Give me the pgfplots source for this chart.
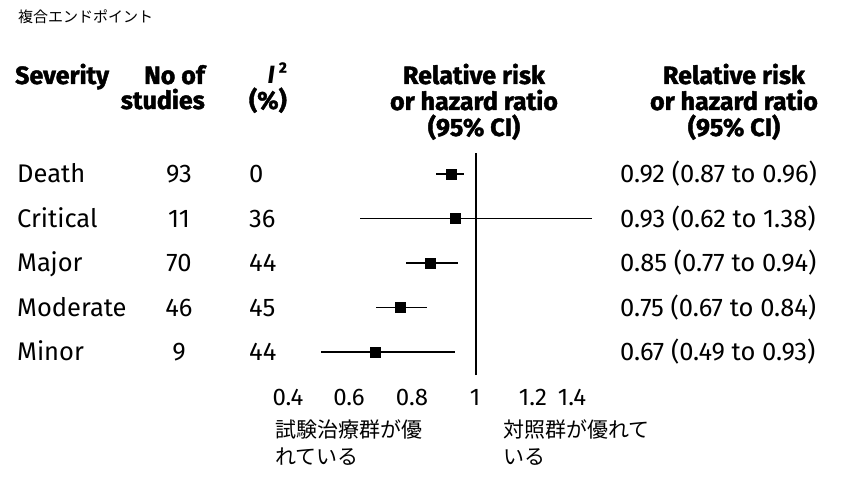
\documentclass[border=0pt]{standalone}
\usepackage{fontspec}
\setmainfont{Fira Sans}[BoldFeatures={FakeBold=1.6}]
\newfontfamily\jp{Noto Sans CJK JP}
\usepackage{pgfplots}
\pgfplotsset{compat=1.18}
\usepackage{pgfplotstable}

\pgfplotstableread{
row est lo hi em ep
5 0.92 0.87 0.96 0.05 0.04
4 0.93 0.62 1.38 0.31 0.45
3 0.85 0.77 0.94 0.08 0.09
2 0.75 0.67 0.84 0.08 0.09
1 0.67 0.49 0.93 0.18 0.26
}\data

\newcommand\bd{\fontsize{25bp}{30bp}\selectfont\bfseries}
\newcommand\bo{\fontsize{25.5bp}{30bp}\selectfont}

\begin{document}
\begin{tikzpicture}
\begin{axis}[
  x=304bp, y=44.5bp,
  xmin=0.29, xmax=1.44, ymin=0.483, ymax=5.47,
  clip=false,
  axis line style={draw=none},
  major tick length=0pt,
  ytick=\empty,
  xtick={0.3816,0.5822,0.7895,0.9967,1.1875,1.3158},
  xticklabels={0.4,0.6,0.8,1,1.2,1.4},
  xticklabel style={font=\fontsize{24bp}{24bp}\selectfont, yshift=-11bp},
  /pgf/number format/assume math mode=true,
]
\addplot[black, line width=2.5bp] coordinates {(1,0.483) (1,5.47)};
\addplot[black, only marks, mark=square*, mark size=5bp,
  error bars/.cd, x dir=both, x explicit, error mark=none,
  error bar style={line width=1.8bp, black}]
  table[x=est, y=row, x error minus=em, x error plus=ep]{\data};
\coordinate (P0) at (axis cs:-0.565789,8.910112);
\coordinate (P1) at (axis cs:2.266447,-1.808989);
\end{axis}
\begin{scope}[shift={(P0)}, x=1bp, y=-1bp]
\node[anchor=base west, inner sep=0pt, font=\jp\fontsize{15bp}{15bp}\selectfont] at (18,23) {複合エンドポイント};
% headers
\node[anchor=base west, inner sep=0pt, font=\bd] at (15,84) {Severity};
\node[anchor=base east, inner sep=0pt, font=\bd] at (205,84) {No of};
\node[anchor=base east, inner sep=0pt, font=\bd] at (205,109) {studies};
\node[anchor=base east, inner sep=0pt, font=\bd] at (287,84) {\itshape I\upshape\,\raisebox{0.45em}{\fontsize{15bp}{15bp}\selectfont 2}};
\node[anchor=base east, inner sep=0pt, font=\bd] at (287,109) {(\%)};
\foreach \cx in {474,734} {
  \node[anchor=base, inner sep=0pt, font=\bd] at (\cx,84) {Relative risk};
  \node[anchor=base, inner sep=0pt, font=\bd] at (\cx,110) {or hazard ratio};
  \node[anchor=base, inner sep=0pt, font=\bd] at (\cx,136) {(95\% CI)};
}
% rows
\foreach \n/\s/\i/\r/\yy in {Death/93/0/{0.92 (0.87 to 0.96)}/183,
  Critical/11/36/{0.93 (0.62 to 1.38)}/228,
  Major/70/44/{0.85 (0.77 to 0.94)}/272,
  Moderate/46/45/{0.75 (0.67 to 0.84)}/317,
  Minor/9/44/{0.67 (0.49 to 0.93)}/361} {
  \node[anchor=base west, inner sep=0pt, font=\bo] at (17,\yy) {\n};
  \node[anchor=base, inner sep=0pt, font=\bo] at (179,\yy) {\s};
  \node[anchor=base west, inner sep=0pt, font=\bo] at (249,\yy) {\i};
  \node[anchor=base west, inner sep=0pt, font=\bo] at (620,\yy) {\r};
}
% bottom labels
\node[anchor=base west, inner sep=0pt, font=\jp\fontsize{21bp}{21bp}\selectfont] at (275,438) {試験治療群が優};
\node[anchor=base west, inner sep=0pt, font=\jp\fontsize{21bp}{21bp}\selectfont] at (275,465) {れている};
\node[anchor=base west, inner sep=0pt, font=\jp\fontsize{21bp}{21bp}\selectfont] at (503,438) {対照群が優れて};
\node[anchor=base west, inner sep=0pt, font=\jp\fontsize{21bp}{21bp}\selectfont] at (503,465) {いる};
\end{scope}
\pgfresetboundingbox
\path[use as bounding box] (P0) rectangle (P1);
\end{tikzpicture}
\end{document}
